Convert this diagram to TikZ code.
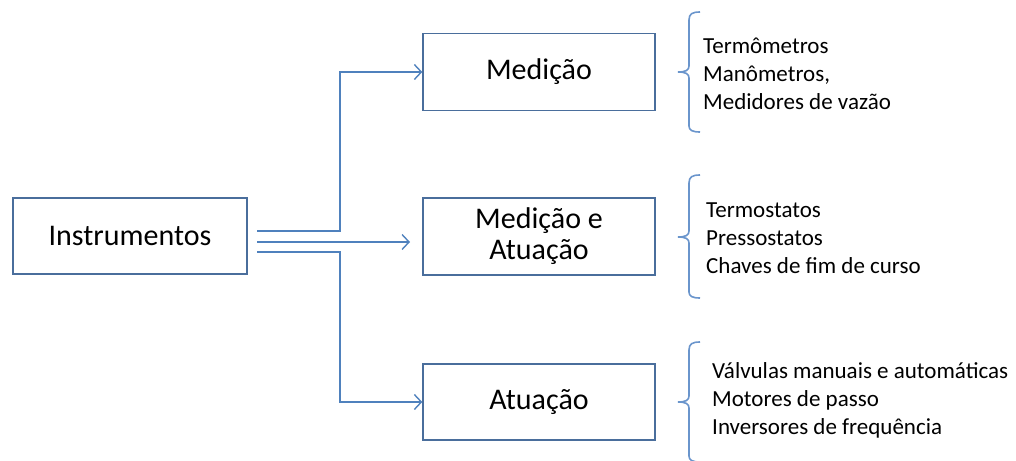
\documentclass[tikz,border=0pt]{standalone}
\usepackage{fontspec}
\setmainfont{Carlito}
\usetikzlibrary{arrows.meta}
\definecolor{conn}{HTML}{4F81BD}
\definecolor{boxb}{HTML}{4A6E9C}
\definecolor{brc}{HTML}{6A95CC}
\tikzset{
  box/.style={draw=boxb, line width=1.4pt, minimum width=232pt, minimum height=77pt, inner sep=0pt, align=center, font=\fontsize{30}{31}\selectfont},
  lst/.style={anchor=west, inner sep=0pt, align=left, font=\fontsize{23}{28}\selectfont},
  conline/.style={draw=conn, line width=1.4pt},
  arr/.style={conline, -{Straight Barb[length=7pt,width=15pt,line width=1.4pt]}},
  brace/.style={draw=brc, line width=1.6pt}
}
\begin{document}
\begin{tikzpicture}[x=1pt,y=-1pt]
\useasboundingbox (0,0) rectangle (1016,460);
\node[box, minimum width=234pt, minimum height=76pt] (inst) at (130,236) {Instrumentos};
\node[box] (med) at (539,72) {Medição};
\node[box] (mea) at (539,236.5) {Medição e\\Atuação};
\node[box, minimum height=76pt] (atu) at (539,402) {Atuação};

\coordinate (s1) at (257,231);
\coordinate (s2) at (257,242);
\coordinate (s3) at (257,252);
\coordinate (e2) at (410,242);

\draw[arr] (s1) -- (340,231) -- (340,72) -- (med.west);
\draw[arr] (s2) -- (e2);
\draw[arr] (s3) -- (340,252) -- (340,402) -- (atu.west);

% braces
\draw[brace] (700,12) .. controls (692,12) and (689,14) .. (689,20) -- (689,66) .. controls (689,70) and (686,72) .. (678,72) .. controls (686,72) and (689,74) .. (689,78) -- (689,126) .. controls (689,130) and (692,132) .. (700,132);
\draw[brace] (700,175) .. controls (692,175) and (689,177) .. (689,183) -- (689,231) .. controls (689,235) and (686,237) .. (678,237) .. controls (686,237) and (689,239) .. (689,243) -- (689,292) .. controls (689,296) and (692,298) .. (700,298);
\draw[brace] (700,342) .. controls (692,342) and (689,344) .. (689,350) -- (689,396) .. controls (689,400) and (686,402) .. (678,402) .. controls (686,402) and (689,404) .. (689,408) -- (689,456) .. controls (689,460) and (692,462) .. (700,462);

\node[lst] (l1) at (703,74) {Termômetros\\Manômetros,\\Medidores de vazão};
\node[lst] (l2) at (706,238) {Termostatos\\Pressostatos\\Chaves de fim de curso};
\node[lst] (l3) at (712,400) {Válvulas manuais e automáticas\\Motores de passo\\Inversores de frequência};
\end{tikzpicture}
\end{document}
